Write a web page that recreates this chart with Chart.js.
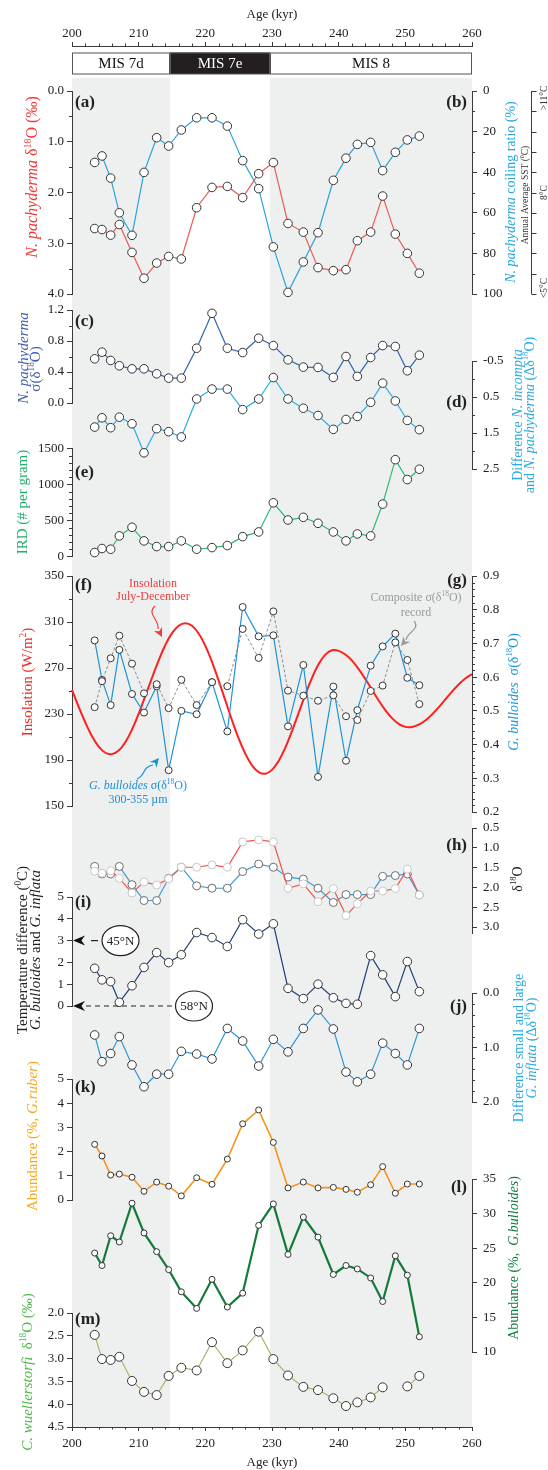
<!DOCTYPE html>
<html><head><meta charset="utf-8">
<script src="https://cdn.jsdelivr.net/npm/chart.js@4.4.1/dist/chart.umd.min.js"></script>
<style>
html,body{margin:0;padding:0;background:#fff;}
#wrap{position:relative;width:548px;height:1470px;overflow:hidden;}
#wrap canvas{position:absolute;left:0;top:0;}
</style></head>
<body><div id="wrap"></div>
<script>
// ---------------- DATA ----------------
const AGES = [203.4, 204.5, 205.8, 207.1, 209.0, 210.8, 212.7, 214.5, 216.4, 218.7, 221.0, 223.3, 225.6, 228.0, 230.2, 232.4, 234.7, 236.9, 239.2, 241.1, 242.8, 244.8, 246.6, 248.5, 250.3, 252.1];
const A_D18O = [2.71, 2.73, 2.84, 2.63, 3.18, 3.69, 3.39, 3.26, 3.31, 2.30, 1.90, 1.88, 2.10, 1.63, 1.41, 2.61, 2.78, 3.48, 3.54, 3.52, 2.95, 2.78, 2.07, 2.82, 3.20, 3.59];
const B_COIL = [35.2, 32.0, 42.9, 60.0, 71.1, 40.1, 23.0, 27.1, 19.2, 13.2, 13.2, 17.3, 34.3, 48.1, 76.8, 99.2, 84.2, 69.8, 44.0, 33.1, 26.3, 25.3, 39.2, 30.2, 24.1, 22.2];
const C_SIGMA = [0.57, 0.656, 0.549, 0.48, 0.441, 0.441, 0.377, 0.321, 0.321, 0.707, 1.157, 0.707, 0.651, 0.836, 0.741, 0.557, 0.463, 0.459, 0.33, 0.60, 0.343, 0.587, 0.741, 0.729, 0.416, 0.617];
const D_DIFF = [1.335, 1.078, 1.353, 1.06, 1.243, 2.05, 1.381, 1.463, 1.61, 0.555, 0.28, 0.28, 0.849, 0.555, -0.041, 0.555, 0.812, 1.014, 1.399, 1.124, 1.041, 0.647, 0.115, 0.61, 1.151, 1.408];
const E_IRD = [55, 111, 101, 286, 406, 217, 138, 138, 217, 101, 124, 152, 276, 341, 746, 507, 544, 461, 341, 217, 313, 286, 728, 1345, 1069, 1212];
const INS_AGES = [200,201,202,203,204,205,206,207,208,209,210,211,212,213,214,215,216,217,218,219,220,221,222,223,224,225,226,227,228,229,230,231,232,233,234,235,236,237,238,239,240,241,242,243,244,245,246,247,248,249,250,251,252,253,254,255,256,257,258,259,260];
const F_INSOL = [251, 236.3, 222.6, 210.6, 201.7, 196.3, 195.1, 198.2, 205.5, 216.5, 230.2, 245.7, 261.5, 276.7, 290, 300.3, 306.8, 309, 306.7, 300, 289.2, 275.3, 259, 241.8, 224.6, 208.7, 195.4, 185.4, 179.5, 178.1, 181.4, 189.2, 200.8, 215.2, 231, 246.9, 261.4, 273.4, 281.6, 285.4, 284.9, 281.7, 276.4, 269, 260.4, 251.1, 241.8, 233.4, 226.4, 221.4, 218.8, 218.7, 220.7, 224.4, 229.6, 235.8, 242.7, 249.5, 255.7, 260.9, 264.6];
const G_BULL = [0.709, 0.592, 0.517, 0.681, 0.550, 0.495, 0.573, 0.324, 0.500, 0.490, 0.585, 0.439, 0.808, 0.721, 0.724, 0.454, 0.636, 0.304, 0.572, 0.352, 0.502, 0.634, 0.691, 0.729, 0.598, 0.576];
const G_COMP = [0.511, 0.588, 0.656, 0.723, 0.640, 0.552, 0.579, 0.508, 0.592, 0.517, 0.585, 0.573, 0.743, 0.657, 0.795, 0.560, 0.545, 0.530, 0.546, 0.484, 0.473, 0.559, 0.575, 0.703, 0.651, 0.520];
const H_RED = [1.59, 1.64, 1.58, 1.77, 2.14, 1.86, 1.94, 1.78, 1.49, 1.49, 1.43, 1.49, 0.85, 0.80, 0.85, 2.02, 1.91, 2.36, 2.03, 2.71, 2.41, 2.09, 2.09, 2.03, 1.54, 2.19];
const H_BLUE = [1.47, 1.66, 1.66, 1.47, 1.93, 2.33, 2.33, 1.77, 1.49, 1.96, 2.02, 2.02, 1.60, 1.41, 1.49, 1.74, 1.79, 2.02, 2.38, 2.18, 2.18, 2.18, 1.72, 1.70, 1.66, 2.19];
const I_TEMP = [1.73, 1.20, 1.12, 0.17, 0.93, 1.77, 2.45, 1.99, 2.35, 3.37, 3.14, 2.73, 3.96, 3.30, 3.77, 0.81, 0.34, 1.00, 0.38, 0.12, 0.08, 2.31, 1.43, 0.43, 2.04, 0.66];
const J_DIFF = [0.77, 1.26, 1.11, 0.80, 1.32, 1.72, 1.49, 1.49, 1.07, 1.12, 1.21, 0.65, 0.88, 1.34, 0.85, 1.08, 0.65, 0.31, 0.66, 1.45, 1.63, 1.49, 0.92, 1.11, 1.32, 0.65];
const K_RUBER = [2.30, 1.82, 1.03, 1.07, 0.94, 0.36, 0.74, 0.57, 0.17, 0.92, 0.65, 1.69, 3.15, 3.72, 2.38, 0.50, 0.74, 0.50, 0.52, 0.44, 0.32, 0.63, 1.38, 0.28, 0.66, 0.66];
const L_BULL = [24.3, 22.5, 26.8, 25.9, 31.5, 27.2, 24.5, 21.9, 18.7, 16.3, 20.5, 16.5, 18.5, 28.3, 31.4, 24.1, 29.5, 26.6, 21.2, 22.5, 22.0, 20.7, 17.3, 23.9, 21.1, 12.2];
const M_CWUEL = [2.48, 3.01, 3.03, 2.96, 3.49, 3.73, 3.80, 3.38, 3.20, 3.26, 2.64, 3.10, 2.82, 2.41, 3.01, 3.37, 3.62, 3.69, 3.87, 4.04, 3.96, 3.85, 3.63, null, 3.61, 3.38];

// stages and shading
const MIS_BOUNDS = [200, 214.7, 229.7, 260];
const MIS_LABELS = ['MIS 7d', 'MIS 7e', 'MIS 8'];
const SHADE_BANDS = [[200, 214.7], [229.7, 260]];
const LAT_MARKS = [['45°N', 3], ['58°N', 0]];

// tick labels
const X_TICKS = [200, 210, 220, 230, 240, 250, 260];
const X_MINOR = [202,204,206,208,212,214,216,218,222,224,226,228,232,234,236,238,242,244,246,248,252,254,256,258];
const TK_A = [0, 1, 2, 3, 4], MN_A = [0.5, 1.5, 2.5, 3.5];
const TK_B = [0, 20, 40, 60, 80, 100], MN_B = [10, 30, 50, 70, 90];
const TK_SST = [0,10,20,30,40,50,60,70,80,90,100];
const SST_LABELS = [['>11°C', 0], ['8°C', 50], ['<5°C', 100]];
const TK_C = [0, 0.4, 0.8, 1.2], MN_C = [0.2, 0.6, 1.0];
const TK_D = [-0.5, 0.5, 1.5, 2.5], MN_D = [0, 1, 2];
const TK_E = [0, 500, 1000, 1500], MN_E = [100,200,300,400,600,700,800,900,1100,1200,1300,1400];
const TK_F = [150, 190, 230, 270, 310, 350], MN_F = [170, 210, 250, 290, 330];
const TK_G = [0.2, 0.3, 0.4, 0.5, 0.6, 0.7, 0.8, 0.9];
const MN_G = [0.22,0.24,0.26,0.28,0.32,0.34,0.36,0.38,0.42,0.44,0.46,0.48,0.52,0.54,0.56,0.58,0.62,0.64,0.66,0.68,0.72,0.74,0.76,0.78,0.82,0.84,0.86,0.88];
const TK_H = [0.5, 1.0, 1.5, 2.0, 2.5, 3.0];
const TK_I = [0, 1, 2, 3, 4, 5];
const TK_J = [0, 1, 2], MN_J = [0.2, 0.4, 0.6, 0.8, 1.2, 1.4, 1.6, 1.8];
const TK_K = [0, 1, 2, 3, 4, 5];
const TK_L = [10, 15, 20, 25, 30, 35];
const TK_M = [2.0, 2.5, 3.0, 3.5, 4.0, 4.5];

// ---------------- LAYOUT ----------------
const W = 548, H = 1470, LEFT = 72, RIGHT = 472;
const SERIF = "'Liberation Serif','Times New Roman',serif";
const AXC = '#3a3a3a';
const wrap = document.getElementById('wrap');

function mkCanvas() {
  const c = document.createElement('canvas');
  c.width = W; c.height = H; c.style.width = W + 'px'; c.style.height = H + 'px';
  wrap.appendChild(c); return c;
}
function fnt(size, flags) {
  flags = flags || '';
  return (flags.includes('i') ? 'italic ' : '') + (flags.includes('b') ? 'bold ' : '') + size + 'px ' + SERIF;
}
function drawRich(ctx, x, y, rot, segs, size, color, align) {
  ctx.save();
  ctx.translate(x, y); ctx.rotate(rot);
  ctx.fillStyle = color; ctx.textBaseline = 'middle'; ctx.textAlign = 'left';
  let w = 0;
  for (const s of segs) { const f = s[1] || ''; ctx.font = fnt(f.includes('s') ? size * 0.62 : size, f); w += ctx.measureText(s[0]).width; }
  let cx = align === 'left' ? 0 : (align === 'right' ? -w : -w / 2);
  for (const s of segs) {
    const f = s[1] || ''; const sup = f.includes('s');
    ctx.font = fnt(sup ? size * 0.62 : size, f);
    ctx.fillText(s[0], cx, sup ? -size * 0.3 : 0);
    cx += ctx.measureText(s[0]).width;
  }
  ctx.restore();
}
function arrowHead(ctx, x, y, ang, len, hw, color) {
  ctx.save(); ctx.translate(x, y); ctx.rotate(ang);
  ctx.beginPath(); ctx.moveTo(0, 0); ctx.lineTo(-len, -hw); ctx.lineTo(-len * 0.7, 0); ctx.lineTo(-len, hw); ctx.closePath();
  ctx.fillStyle = color; ctx.fill(); ctx.restore();
}
function pts(xs, ys) { return xs.map((x, i) => ({ x: x, y: ys[i] })); }

function yScale(pos, min, max, tk, dec, reverse) {
  return {
    type: 'linear', position: pos, min: min, max: max, reverse: !!reverse,
    afterFit(s) { s.width = pos === 'left' ? LEFT : W - RIGHT; },
    afterBuildTicks(s) { s.ticks = tk.map(v => ({ value: v })); },
    border: { display: true, color: AXC, width: 1 },
    grid: { display: true, drawOnChartArea: false, drawTicks: true, tickLength: 5, tickColor: AXC, tickWidth: 1, color: AXC },
    ticks: { autoSkip: false, color: '#222', padding: pos === 'left' ? 3 : 6, font: { family: SERIF, size: 13 },
      callback: v => dec == null ? String(Math.round(v)) : Number(v).toFixed(dec) }
  };
}
function minorPlugin(specs) {
  return { id: 'minorTicks', afterDraw(chart) {
    const ctx = chart.ctx; ctx.save(); ctx.strokeStyle = AXC; ctx.lineWidth = 1;
    const ca = chart.chartArea;
    for (const sp of specs) {
      const s = chart.scales[sp.id];
      for (const v of sp.values) {
        const p = Math.round(s.getPixelForValue(v)) + 0.5;
        ctx.beginPath();
        if (sp.side === 'top') { ctx.moveTo(p, ca.top); ctx.lineTo(p, ca.top - 2.5); }
        else if (sp.side === 'bottom') { ctx.moveTo(p, ca.bottom); ctx.lineTo(p, ca.bottom + 2.5); }
        else if (sp.side === 'left') { ctx.moveTo(ca.left, p); ctx.lineTo(ca.left - 3, p); }
        else { ctx.moveTo(ca.right, p); ctx.lineTo(ca.right + 3, p); }
        ctx.stroke();
      }
    }
    ctx.restore();
  } };
}
function ds(ys, color, opt) {
  opt = opt || {};
  return Object.assign({
    data: pts(AGES, ys), yAxisID: 'y', borderColor: color, borderWidth: 1.2, tension: 0, spanGaps: false, clip: false,
    pointRadius: 4.3, pointBackgroundColor: '#fff', pointBorderColor: '#333', pointBorderWidth: 1
  }, opt);
}
function panel(top, bottom, scales, datasets, plugins) {
  const sc = Object.assign({ x: { type: 'linear', min: 200, max: 260, display: false } }, scales);
  let hasL = false, hasR = false;
  for (const k in scales) { if (scales[k].position === 'left') hasL = true; if (scales[k].position === 'right') hasR = true; }
  return new Chart(mkCanvas(), {
    type: 'line', data: { datasets: datasets },
    options: { responsive: false, animation: false, devicePixelRatio: 1, events: [],
      layout: { padding: { left: hasL ? 0 : LEFT, right: hasR ? 0 : W - RIGHT, top: top, bottom: H - bottom } },
      scales: sc, plugins: { legend: { display: false }, tooltip: { enabled: false } } },
    plugins: plugins || []
  });
}

// ---------------- text decorations (frame layer) ----------------
const R = -Math.PI / 2;
const TITLES = [
  [33, 177, 16, '#ed3b38', [['N. pachyderma', 'i'], [' δ'], ['18', 's'], ['O (‰)']]],
  [511, 192, 14, '#29a6de', [['N. pachyderma', 'i'], [' coiling ratio (%)']]],
  [525, 195, 9.5, '#333', [['Annual Average SST ('], ['0', 's'], ['C)']]],
  [24.5, 358, 15, '#3b5fab', [['N. pachyderma', 'i']]],
  [36, 369, 15, '#3b5fab', [['σ(δ'], ['18', 's'], ['O)']]],
  [518, 415, 14, '#29abe2', [['Difference '], ['N. incompta', 'i']]],
  [530, 415, 14, '#29abe2', [['and '], ['N. pachyderma', 'i'], [' (Δδ'], ['18', 's'], ['O)']]],
  [23, 502, 15, '#22b06b', [['IRD (# per gram)']]],
  [28, 682, 15, '#ee2a24', [['Insolation (W/m'], ['2', 's'], [')']]],
  [514, 692, 14, '#1e96d7', [['G. bulloides', 'i'], ['  σ(δ'], ['18', 's'], ['O)']]],
  [518, 879, 14, '#222', [['δ'], ['18', 's'], ['O']]],
  [23, 950, 15, '#222', [['Temperature difference ('], ['0', 's'], ['C)']]],
  [36, 950, 15, '#222', [['G. bulloides', 'i'], [' and '], ['G. inflata', 'i']]],
  [519, 1048, 14, '#29abe2', [['Difference small and large']]],
  [532, 1048, 14, '#29abe2', [['G. inflata', 'i'], [' (Δδ'], ['18', 's'], ['O)']]],
  [33, 1136, 15, '#f7a823', [['Abundance (%, '], ['G.ruber', 'i'], [')']]],
  [514, 1258, 14, '#0f7d3f', [['Abundance (%,  '], ['G.bulloides', 'i'], [')']]],
  [28, 1372, 15, '#4cba47', [['C. wuellerstorfi', 'i'], ['  δ'], ['18', 's'], ['O (‰)']]]
];
const PANEL_LABELS = [['(a)', 75, 103, 'left'], ['(b)', 467, 103, 'right'], ['(c)', 75, 322, 'left'], ['(d)', 467, 403, 'right'],
  ['(e)', 75, 473, 'left'], ['(f)', 75, 586, 'left'], ['(g)', 467, 581, 'right'], ['(h)', 467, 846, 'right'],
  ['(i)', 75, 903, 'left'], ['(j)', 467, 1007, 'right'], ['(k)', 75, 1088, 'left'], ['(l)', 467, 1188, 'right'], ['(m)', 75, 1320, 'left']];

const framePlugin = {
  id: 'frame',
  beforeDraw(chart) {
    const ctx = chart.ctx, xs = chart.scales.x;
    ctx.save(); ctx.fillStyle = '#eeefef';
    for (const b of SHADE_BANDS) {
      const x0 = xs.getPixelForValue(b[0]), x1 = xs.getPixelForValue(b[1]);
      ctx.fillRect(x0, 78, x1 - x0, chart.chartArea.bottom - 78);
    }
    ctx.restore();
  },
  afterDraw(chart) {
    const ctx = chart.ctx, xs = chart.scales.x;
    ctx.save();
    for (let i = 0; i < MIS_LABELS.length; i++) {
      const x0 = xs.getPixelForValue(MIS_BOUNDS[i]), x1 = xs.getPixelForValue(MIS_BOUNDS[i + 1]);
      const dark = MIS_LABELS[i] === 'MIS 7e';
      ctx.fillStyle = dark ? '#231f20' : '#fff';
      ctx.fillRect(x0, 52.5, x1 - x0, 21.5);
      ctx.strokeStyle = '#555'; ctx.lineWidth = 1; ctx.strokeRect(x0 + 0.5, 53, x1 - x0 - 1, 21);
      ctx.fillStyle = dark ? '#fff' : '#111'; ctx.font = fnt(15); ctx.textAlign = 'center'; ctx.textBaseline = 'middle';
      ctx.fillText(MIS_LABELS[i], (x0 + x1) / 2, 64);
    }
    ctx.restore();
    for (const t of TITLES) drawRich(ctx, t[0], t[1], R, t[4], t[2], t[3], 'center');
    for (const p of PANEL_LABELS) drawRich(ctx, p[1], p[2], 0, [[p[0], 'b']], 17, '#222', p[3]);
    drawRich(ctx, 153, 584, 0, [['Insolation']], 12, '#f03c3c', 'center');
    drawRich(ctx, 153, 597, 0, [['July-December']], 12, '#f03c3c', 'center');
    drawRich(ctx, 416, 598, 0, [['Composite σ(δ'], ['18', 's'], ['O)']], 12, '#9a9a9a', 'center');
    drawRich(ctx, 416, 613, 0, [['record']], 12, '#9a9a9a', 'center');
    drawRich(ctx, 138, 786, 0, [['G. bulloides', 'i'], [' σ(δ'], ['18', 's'], ['O)']], 12, '#1a90d5', 'center');
    drawRich(ctx, 138, 800, 0, [['300-355 µm']], 12, '#1a90d5', 'center');
    ctx.save(); ctx.lineWidth = 1.2;
    ctx.strokeStyle = '#f03c3c'; ctx.beginPath(); ctx.moveTo(155, 606); ctx.bezierCurveTo(146, 614, 160, 620, 158, 629); ctx.stroke();
    arrowHead(ctx, 162, 637, Math.atan2(8, 4), 9, 4.5, '#f03c3c');
    ctx.strokeStyle = '#9a9a9a'; ctx.beginPath(); ctx.moveTo(414, 621); ctx.bezierCurveTo(421, 629, 407, 632, 406, 640); ctx.stroke();
    arrowHead(ctx, 401, 646, Math.atan2(6, -5), 9, 4.5, '#9a9a9a');
    ctx.strokeStyle = '#1a90d5'; ctx.beginPath(); ctx.moveTo(137, 779); ctx.bezierCurveTo(146, 775, 142, 767, 153, 765); ctx.stroke();
    arrowHead(ctx, 159, 758, Math.atan2(-7, 6), 9, 4.5, '#1a90d5');
    ctx.restore();
  }
};

// ---------------- FRAME CHART (age axes, shading, MIS) ----------------
function xAxis(pos, h, pad) {
  return {
    type: 'linear', position: pos, min: 200, max: 260,
    afterFit(s) { s.height = h; },
    afterBuildTicks(s) { s.ticks = X_TICKS.map(v => ({ value: v })); },
    border: { display: true, color: AXC, width: 1 },
    grid: { display: true, drawOnChartArea: false, drawTicks: true, tickLength: 4, tickColor: AXC, color: AXC },
    ticks: { autoSkip: false, maxRotation: 0, color: '#222', padding: pad, font: { family: SERIF, size: 13 }, callback: v => String(v) },
    title: { display: true, text: 'Age (kyr)', color: '#222', font: { family: SERIF, size: 13 }, padding: pos === 'top' ? { top: 7, bottom: 0 } : { top: 0, bottom: 0 } }
  };
}
new Chart(mkCanvas(), {
  type: 'line', data: { datasets: [] },
  options: { responsive: false, animation: false, devicePixelRatio: 1, events: [],
    layout: { padding: { left: LEFT, right: W - RIGHT, top: 0, bottom: 0 } },
    scales: { x: xAxis('top', 46, 1), x2: xAxis('bottom', H - 1427, 5), y: { display: false, min: 0, max: 1 } },
    plugins: { legend: { display: false }, tooltip: { enabled: false } } },
  plugins: [framePlugin, minorPlugin([{ id: 'x', values: X_MINOR, side: 'top' }, { id: 'x2', values: X_MINOR, side: 'bottom' }])]
});

// ---------------- PANELS ----------------
const sstPlugin = { id: 'sst', afterDraw(chart) {
  const ctx = chart.ctx, s = chart.scales.y2, X0 = 531.5;
  ctx.save(); ctx.strokeStyle = AXC; ctx.lineWidth = 1;
  ctx.beginPath(); ctx.moveTo(X0, s.getPixelForValue(0)); ctx.lineTo(X0, s.getPixelForValue(100)); ctx.stroke();
  for (const v of TK_SST) { const p = Math.round(s.getPixelForValue(v)) + 0.5; ctx.beginPath(); ctx.moveTo(X0, p); ctx.lineTo(X0 + 5, p); ctx.stroke(); }
  ctx.restore();
  for (const l of SST_LABELS) {
    const p = s.getPixelForValue(l[1]) + (l[1] === 0 ? 7 : (l[1] === 100 ? -6 : 0));
    drawRich(ctx, 544, p, R, [[l[0]]], 9.5, '#333', 'center');
  }
} };
panel(91, 294, {
  y: yScale('left', 0, 4, TK_A, 1, true),
  y2: yScale('right', 0, 100, TK_B, null, true)
}, [
  ds(A_D18O, '#ee5a55'),
  ds(B_COIL, '#27a4dd', { yAxisID: 'y2' })
], [minorPlugin([{ id: 'y', values: MN_A, side: 'left' }, { id: 'y2', values: MN_B, side: 'right' }]), sstPlugin]);

panel(310, 403, { y: yScale('left', 0, 1.2, TK_C, 1) }, [ds(C_SIGMA, '#2f64ae')],
  [minorPlugin([{ id: 'y', values: MN_C, side: 'left' }])]);
panel(361, 469, { y: yScale('right', -0.5, 2.5, TK_D, 1, true) }, [ds(D_DIFF, '#27b1e6')],
  [minorPlugin([{ id: 'y', values: MN_D, side: 'right' }])]);
panel(448.5, 556.5, { y: yScale('left', 0, 1500, TK_E, null) }, [ds(E_IRD, '#2dbb6e')],
  [minorPlugin([{ id: 'y', values: MN_E, side: 'left' }])]);
panel(576, 806, { y: yScale('left', 150, 350, TK_F, null) }, [{
  data: pts(INS_AGES, F_INSOL), yAxisID: 'y', borderColor: '#ff1f1f', borderWidth: 2, tension: 0.4, pointRadius: 0, clip: false
}], [minorPlugin([{ id: 'y', values: MN_F, side: 'left' }])]);
panel(576, 812, { y: yScale('right', 0.2, 0.9, TK_G, 1) }, [
  ds(G_COMP, '#8c8c8c', { borderDash: [3, 2], borderWidth: 1, pointRadius: 3.5 }),
  ds(G_BULL, '#1f93d8', { pointRadius: 3.5 })
], [minorPlugin([{ id: 'y', values: MN_G, side: 'right' }])]);
panel(828, 933, { y: yScale('right', 0.5, 3.15, TK_H, 1, true) }, [
  ds(H_RED, '#f05548', { pointBorderColor: '#c8c8c8', pointRadius: 4 }),
  ds(H_BLUE, '#3d9ad8', { pointBorderColor: '#6e6e6e', pointRadius: 4 })
]);
const latPlugin = { id: 'lat', afterDraw(chart) {
  const ctx = chart.ctx, s = chart.scales.y;
  ctx.save();
  const y45 = s.getPixelForValue(LAT_MARKS[0][1]), y58 = s.getPixelForValue(LAT_MARKS[1][1]);
  ctx.strokeStyle = '#222'; ctx.lineWidth = 1.2;
  arrowHead(ctx, 73, y45, Math.PI, 12, 5, '#111');
  ctx.beginPath(); ctx.moveTo(91, y45); ctx.lineTo(98, y45); ctx.stroke();
  arrowHead(ctx, 73, y58, Math.PI, 12, 5, '#111');
  ctx.setLineDash([5, 4]); ctx.beginPath(); ctx.moveTo(86, y58); ctx.lineTo(175, y58); ctx.stroke(); ctx.setLineDash([]);
  const circ = [[120.5, y45, LAT_MARKS[0][0]], [194, y58, LAT_MARKS[1][0]]];
  for (const c of circ) {
    ctx.beginPath(); ctx.ellipse(c[0], c[1], 18.5, 15, 0, 0, Math.PI * 2); ctx.fillStyle = '#fff'; ctx.fill(); ctx.stroke();
    ctx.fillStyle = '#222'; ctx.font = fnt(13); ctx.textAlign = 'center'; ctx.textBaseline = 'middle'; ctx.fillText(c[2], c[0], c[1] + 0.5);
  }
  ctx.restore();
} };
panel(897, 1006, { y: yScale('left', 0, 5, TK_I, null) }, [ds(I_TEMP, '#1f3f7a')], [latPlugin]);
panel(993, 1102, { y: yScale('right', 0, 2, TK_J, 1, true) }, [ds(J_DIFF, '#2c97d8')],
  [minorPlugin([{ id: 'y', values: MN_J, side: 'right' }])]);
panel(1079, 1200, { y: yScale('left', 0, 5, TK_K, null) }, [ds(K_RUBER, '#f7941d', { borderWidth: 1.6, pointRadius: 3 })]);
panel(1179, 1352, { y: yScale('right', 10, 35, TK_L, null) }, [ds(L_BULL, '#137a3a', { borderWidth: 2.2, pointRadius: 3 })]);
panel(1313, 1427, { y: yScale('left', 2.0, 4.5, TK_M, 1, true) }, [ds(M_CWUEL, '#a9b56a', { pointRadius: 4.5 })]);
</script>
</body></html>
